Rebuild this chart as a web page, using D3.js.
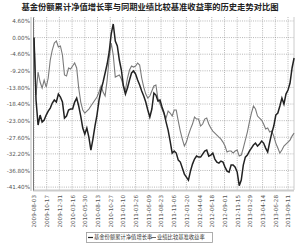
<!DOCTYPE html>
<html><head><meta charset="utf-8">
<script src="https://cdn.jsdelivr.net/npm/d3@7"></script>
<style>body{margin:0;background:#fff}svg{display:block}</style>
</head><body><svg id="c" width="300" height="244"></svg>
<script>
const title = "基金份额累计净值增长率与同期业绩比较基准收益率的历史走势对比图";
const seriesNames = ["基金份额累计净值增长率", "业绩比较基准收益率"];
const startDate = "2009-08-03";
const stepDays = 12; // sampling interval of the series
const xTickLabels = ["2009-08-03","2009-10-17","2009-12-31","2010-03-16","2010-05-30","2010-08-13","2010-10-27","2011-01-10","2011-03-26","2011-06-09","2011-08-23","2011-11-06","2012-01-20","2012-04-04","2012-06-18","2012-09-01","2012-11-15","2013-01-29","2013-04-14","2013-06-28","2013-09-11"];
const yTicks = [4.6,0,-4.6,-9.2,-13.8,-18.4,-23.0,-27.6,-32.2,-36.8,-41.4];
const yTickLabels = ["4.60%","0.00%","-4.60%","-9.20%","-13.80%","-18.40%","-23.00%","-27.60%","-32.20%","-36.80%","-41.40%"];
const fund = [0.00,-17.29,-24.22,-21.45,-23.39,-22.83,-21.45,-20.34,-19.51,-18.12,-17.29,-17.85,-15.63,-16.46,-17.85,-22.28,-21.72,-20.06,-19.78,-19.78,-17.85,-16.74,-18.95,-21.72,-25.05,-26.71,-25.05,-27.54,-31.15,-28.10,-24.50,-21.45,-17.29,-14.52,-12.30,-9.81,-7.32,-3.99,1.00,3.77,-0.94,-2.33,-6.21,-8.98,-13.41,-15.63,-13.97,-11.75,-9.81,-9.26,-10.09,-11.75,-13.13,-14.80,-16.18,-17.85,-20.06,-22.00,-19.78,-15.35,-15.91,-17.57,-17.29,-19.23,-20.89,-23.39,-25.60,-28.65,-31.98,-31.42,-31.98,-33.92,-34.47,-36.13,-37.80,-38.63,-39.46,-36.97,-35.03,-33.64,-32.81,-33.09,-33.09,-32.25,-31.42,-31.15,-32.81,-32.53,-31.98,-33.64,-34.47,-34.75,-34.19,-34.47,-35.86,-36.97,-37.24,-35.30,-35.30,-35.86,-37.24,-41.00,-39.46,-35.30,-33.09,-32.53,-31.42,-30.59,-29.76,-29.21,-30.04,-29.48,-28.65,-29.21,-30.59,-31.70,-28.93,-26.44,-24.50,-21.45,-20.89,-18.95,-16.74,-18.40,-15.63,-14.52,-12.58,-8.42,-5.65];
const bench = [0.00,-15.91,-9.53,-12.30,-13.97,-11.75,-13.69,-11.19,-6.21,-3.44,-1.50,-0.94,-2.60,-2.33,-4.82,-10.36,-10.64,-8.42,-8.70,-7.87,-7.04,-8.42,-13.97,-17.85,-20.06,-20.89,-20.34,-19.78,-18.95,-18.12,-17.29,-16.46,-15.07,-13.41,-15.07,-16.18,-11.75,-5.65,-1.50,-4.82,-10.92,-10.64,-10.36,-11.47,-13.41,-14.52,-11.19,-8.98,-7.87,-8.15,-7.87,-7.04,-7.59,-11.19,-13.69,-15.63,-16.74,-16.18,-14.80,-13.41,-13.13,-17.01,-18.40,-19.78,-21.17,-22.28,-20.34,-20.89,-21.72,-20.06,-20.06,-23.11,-25.88,-28.10,-30.04,-28.93,-26.99,-25.33,-23.94,-22.00,-22.56,-22.56,-24.50,-23.94,-22.56,-22.28,-23.94,-25.05,-25.88,-26.44,-26.99,-27.54,-28.10,-28.93,-30.04,-31.70,-31.42,-31.42,-31.98,-31.42,-31.15,-32.81,-32.53,-30.59,-28.37,-26.16,-23.39,-20.89,-18.95,-19.78,-21.72,-22.28,-22.83,-23.94,-25.33,-25.05,-26.16,-25.88,-27.27,-29.21,-30.59,-31.98,-31.15,-30.04,-29.48,-28.93,-28.38,-27.27,-26.44];

const svg = d3.select("#c");
const parse = d3.timeParse("%Y-%m-%d");
const t0 = parse(startDate);
const dates = fund.map((_, i) => d3.timeDay.offset(t0, i * stepDays));
const L = 33, R = 294, T = 17, B = 190;
const x = d3.scaleTime().domain([parse(xTickLabels[0]), parse(xTickLabels[xTickLabels.length-1])]).range([34, 288]);
const y = d3.scaleLinear().domain([-42.2, 5.7]).range([B, T]);

svg.append("text").attr("x", 150).attr("y", 10).attr("text-anchor", "middle")
  .attr("font-family", "Noto Sans CJK SC").attr("font-weight", "bold").attr("font-size", 8.3)
  .attr("fill", "#222").text(title);

// grid
const g = svg.append("g");
g.selectAll("line.h").data(yTicks).join("line")
  .attr("x1", L).attr("x2", R).attr("y1", d => y(d)).attr("y2", d => y(d))
  .attr("stroke", "#888").attr("stroke-width", 0.6).attr("stroke-dasharray", "1,1.2");
g.selectAll("line.v").data(xTickLabels).join("line")
  .attr("x1", d => x(parse(d))).attr("x2", d => x(parse(d))).attr("y1", T).attr("y2", B)
  .attr("stroke", "#888").attr("stroke-width", 0.6).attr("stroke-dasharray", "1,1.2");

// frame
svg.append("line").attr("x1", R).attr("x2", R).attr("y1", T).attr("y2", B).attr("stroke", "#ccc").attr("stroke-width", 1);
svg.append("line").attr("x1", L).attr("x2", R).attr("y1", B + 0.5).attr("y2", B + 0.5).attr("stroke", "#ccc").attr("stroke-width", 2);

// y axis
const yAxis = d3.axisLeft(y).tickValues(yTicks).tickSize(0).tickPadding(3)
  .tickFormat((d, i) => yTickLabels[i]);
const ya = svg.append("g").attr("transform", `translate(${L},0)`).call(yAxis);
ya.select(".domain").attr("stroke", "#777").attr("stroke-width", 1);
ya.selectAll("text").attr("font-family", "DejaVu Sans").attr("font-size", 5.6).attr("fill", "#555");
svg.append("line").attr("x1", L - 2).attr("x2", L - 2).attr("y1", T).attr("y2", B + 1).attr("stroke", "#aaa").attr("stroke-width", 0.8);

// x axis
const xAxis = d3.axisBottom(x).tickValues(xTickLabels.map(parse)).tickSize(0).tickPadding(0)
  .tickFormat(d3.timeFormat("%Y-%m-%d"));
const xa = svg.append("g").attr("transform", `translate(0,${B + 2})`).call(xAxis);
xa.select(".domain").remove();
xa.selectAll("text").attr("font-family", "DejaVu Sans").attr("font-size", 5.6).attr("fill", "#555")
  .attr("text-anchor", "end").attr("transform", "rotate(-90)").attr("x", -3).attr("y", 0).attr("dy", "0.35em");

// lines
const line = d3.line().x((d, i) => x(dates[i])).y(d => y(d));
svg.append("path").datum(bench).attr("d", line).attr("fill", "none").attr("stroke", "#7a7a7a").attr("stroke-width", 1.1);
svg.append("path").datum(fund).attr("d", line).attr("fill", "none").attr("stroke", "#222").attr("stroke-width", 1.5);

// legend
const lg = svg.append("g");
lg.append("rect").attr("x", 86.5).attr("y", 232.5).attr("width", 126).attr("height", 10)
  .attr("fill", "#fff").attr("stroke", "#999").attr("stroke-width", 0.8);
const items = [{x: 88, c: "#222", w: 1.2}, {x: 151, c: "#666", w: 1}];
items.forEach((it, i) => {
  lg.append("line").attr("x1", it.x).attr("x2", it.x + 5).attr("y1", 237.5).attr("y2", 237.5)
    .attr("stroke", it.c).attr("stroke-width", it.w);
  lg.append("text").attr("x", it.x + 6).attr("y", 237.5).attr("dy", "0.35em")
    .attr("font-family", "Noto Sans CJK SC").attr("font-size", 5.3).attr("fill", "#333").text(seriesNames[i]);
});
</script></body></html>
